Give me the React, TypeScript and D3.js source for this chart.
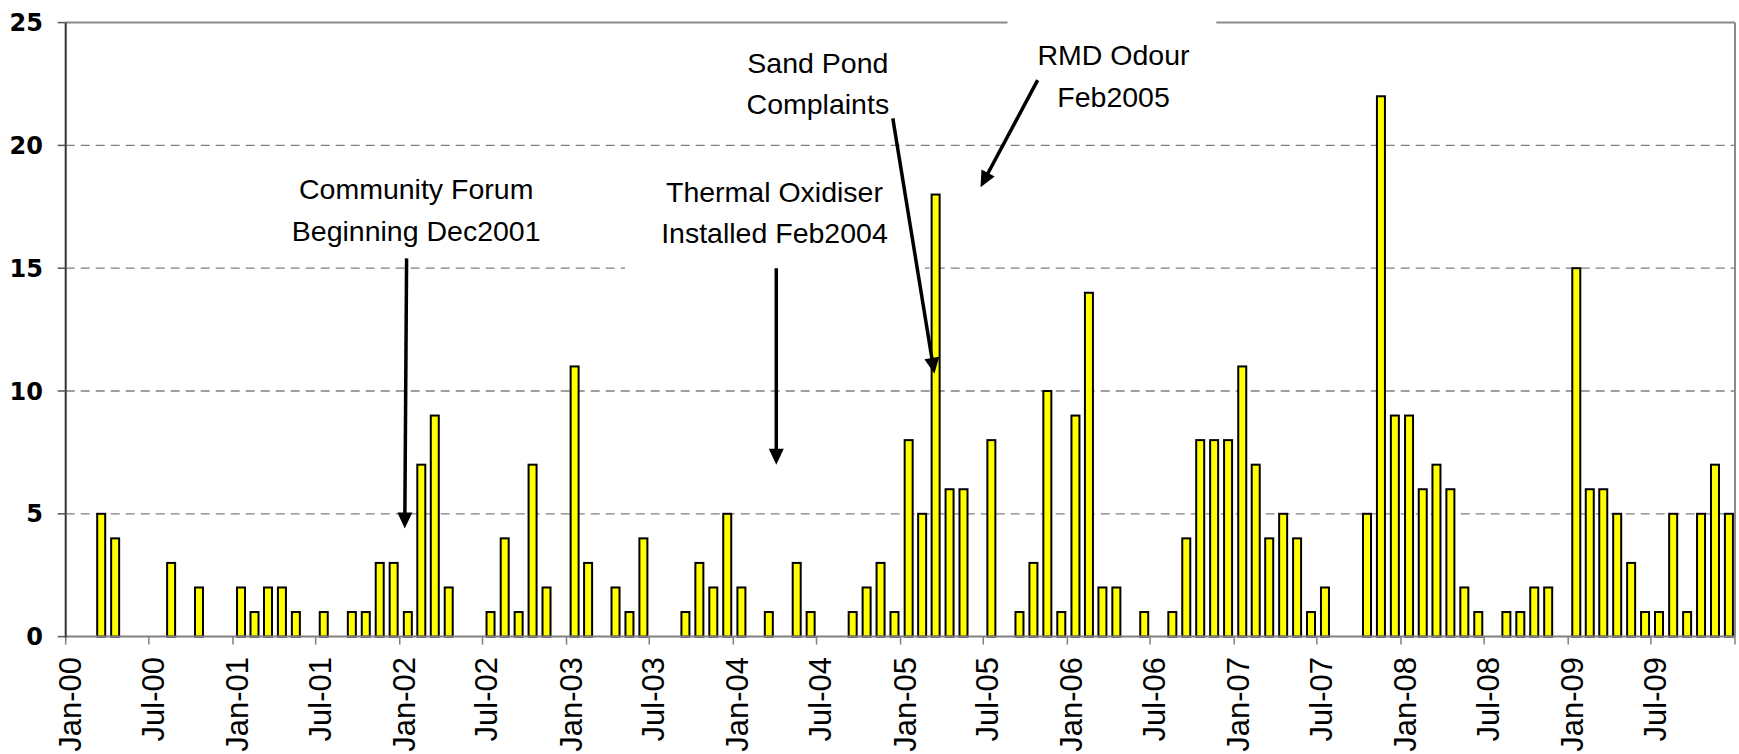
import React from "react";
import * as d3 from "d3";

// ---- data: monthly complaint counts (Jan..Dec) ----
const years = [2000, 2001, 2002, 2003, 2004, 2005, 2006, 2007, 2008, 2009];
const counts2000 = [0, 0, 5, 4, 0, 0, 0, 3, 0, 2, 0, 0];
const counts2001 = [2, 1, 2, 2, 1, 0, 1, 0, 1, 1, 3, 3];
const counts2002 = [1, 7, 9, 2, 0, 0, 1, 4, 1, 7, 2, 0];
const counts2003 = [11, 3, 0, 2, 1, 4, 0, 0, 1, 3, 2, 5];
const counts2004 = [2, 0, 1, 0, 3, 1, 0, 0, 1, 2, 3, 1];
const counts2005 = [8, 5, 18, 6, 6, 0, 8, 0, 1, 3, 10, 1];
const counts2006 = [9, 14, 2, 2, 0, 1, 0, 1, 4, 8, 8, 8];
const counts2007 = [11, 7, 4, 5, 4, 1, 2, 0, 0, 5, 22, 9];
const counts2008 = [9, 6, 7, 6, 2, 1, 0, 1, 1, 2, 2, 0];
const counts2009 = [15, 6, 6, 5, 3, 1, 1, 5, 1, 5, 7, 5];
const countsByYear = [counts2000, counts2001, counts2002, counts2003, counts2004, counts2005, counts2006, counts2007, counts2008, counts2009];

const yTicks = [0, 5, 10, 15, 20, 25];
const tickLabels = [
  "Jan-00", "Jul-00", "Jan-01", "Jul-01", "Jan-02", "Jul-02", "Jan-03", "Jul-03", "Jan-04", "Jul-04",
  "Jan-05", "Jul-05", "Jan-06", "Jul-06", "Jan-07", "Jul-07", "Jan-08", "Jul-08", "Jan-09", "Jul-09",
];

// annotations in data space
const annotationTexts = [
  ["Community Forum", "Beginning Dec2001"],
  ["Thermal Oxidiser", "Installed Feb2004"],
  ["Sand Pond", "Complaints"],
  ["RMD Odour", "Feb2005"],
];
const annotationAnchors = [
  { text: "2002-02-06", textY: 17.8, from: ["2002-01-16", 15.4], to: ["2002-01-12", 4.4] },
  { text: "2004-03-31", textY: 17.7, from: ["2004-04-04", 15.0], to: ["2004-04-04", 7.0] },
  { text: "2004-07-04", textY: 22.95, from: ["2004-12-15", 21.1], to: ["2005-03-16", 10.7] },
  { text: "2006-04-12", textY: 23.27, from: ["2005-10-28", 22.66], to: ["2005-06-25", 18.3] },
];
const whiteBoxes = [
  { x0: "2003-05-09", x1: "2005-02-23", y0: 19.4, y1: 14.3 },
  { x0: "2005-08-23", x1: "2006-11-23", y0: 25.8, y1: 20.6 },
];

const W = 1739;
const H = 754;
const X0 = 65.7;
const X1 = 1735;
const Y0 = 636.6;
const Y1 = 22.6;

const pd = (s: string) => {
  const [yy, mm, dd] = s.split("-").map(Number);
  return new Date(yy, mm - 1, dd);
};

export default function App() {
  const x = d3.scaleTime().domain([new Date(2000, 0, 1), new Date(2010, 0, 1)]).range([X0, X1]);
  const y = d3.scaleLinear().domain([0, 25]).range([Y0, Y1]);

  const bars: { cx: number; v: number; key: string }[] = [];
  years.forEach((yr, i) => {
    countsByYear[i].forEach((v, m) => {
      if (v <= 0) return;
      const s = new Date(yr, m, 1);
      const e = new Date(yr, m + 1, 1);
      bars.push({ cx: (x(s) + x(e)) / 2 + 1, v, key: `${yr}-${m}` });
    });
  });

  const tickDates = d3.timeMonth.every(6)!.range(new Date(2000, 0, 1), new Date(2010, 0, 2));

  const arrow = (fx: number, fy: number, tx: number, ty: number) => {
    const dx = tx - fx;
    const dy = ty - fy;
    const L = Math.hypot(dx, dy);
    const ux = dx / L;
    const uy = dy / L;
    const len = 16;
    const hw = 7.5;
    const bx = tx - ux * len;
    const by = ty - uy * len;
    const nx = -uy;
    const ny = ux;
    return {
      line: [fx, fy, bx + ux * 2, by + uy * 2],
      head: `${tx},${ty} ${bx + nx * hw},${by + ny * hw} ${bx - nx * hw},${by - ny * hw}`,
    };
  };

  const annFont = "'Liberation Sans', Arial, sans-serif";

  return (
    <svg width={W} height={H} style={{ position: "absolute", left: 0, top: 0, background: "#fff" }}>
      <rect x={0} y={0} width={W} height={H} fill="#fff" />
      {/* gridlines */}
      {yTicks.filter((t) => t > 0 && t < 25).map((t) => (
        <line key={`g${t}`} x1={X0} x2={X1} y1={y(t)} y2={y(t)} stroke="#808080" strokeWidth={1.3} strokeDasharray="9,6" />
      ))}
      {/* plot border top/right */}
      <line x1={X0} x2={X1} y1={Y1} y2={Y1} stroke="#8a8a8a" strokeWidth={2} />
      <line x1={X1} x2={X1} y1={Y1} y2={Y0} stroke="#8a8a8a" strokeWidth={2} />

      {/* bars */}
      {bars.map((b) => (
        <rect key={b.key} x={b.cx - 4} y={y(b.v)} width={8} height={y(0) - y(b.v)} fill="#ffff00" stroke="#000" strokeWidth={2} />
      ))}

      {/* x axis */}
      <line x1={X0} x2={X1} y1={Y0} y2={Y0} stroke="#808080" strokeWidth={2} />
      {tickDates.map((d, i) => (
        <line key={`xt${i}`} x1={x(d)} x2={x(d)} y1={Y0} y2={Y0 + 8} stroke="#808080" strokeWidth={1.5} />
      ))}
      {tickDates.slice(0, tickLabels.length).map((d, i) => (
        <text
          key={`xl${i}`}
          transform={`translate(${x(d) + 15},${657}) rotate(-90)`}
          textAnchor="end"
          fontFamily={annFont}
          fontSize={31}
          fill="#000"
        >
          {tickLabels[i]}
        </text>
      ))}

      {/* y axis */}
      <line x1={X0} x2={X0} y1={Y1} y2={Y0 + 1} stroke="#333" strokeWidth={2} />
      {yTicks.map((t) => (
        <g key={`yt${t}`}>
          <line x1={X0 - 8} x2={X0} y1={y(t)} y2={y(t)} stroke="#555" strokeWidth={1.5} />
          <text x={43} y={y(t)} dy="0.36em" textAnchor="end" fontFamily="'DejaVu Sans', sans-serif" fontWeight="bold" fontSize={24} fill="#000">
            {t}
          </text>
        </g>
      ))}

      {/* white text boxes */}
      {whiteBoxes.map((b, i) => (
        <rect key={`wb${i}`} x={x(pd(b.x0))} y={y(b.y0)} width={x(pd(b.x1)) - x(pd(b.x0))} height={y(b.y1) - y(b.y0)} fill="#fff" />
      ))}

      {/* annotations */}
      {annotationAnchors.map((a, i) => {
        const tx = x(pd(a.text));
        const ty = y(a.textY);
        const ar = arrow(x(pd(a.from[0] as string)), y(a.from[1] as number), x(pd(a.to[0] as string)), y(a.to[1] as number));
        return (
          <g key={`an${i}`}>
            {annotationTexts[i].map((line, j) => (
              <text key={j} x={tx} y={ty + j * 41.5} textAnchor="middle" fontFamily={annFont} fontSize={28.5} fill="#000">
                {line}
              </text>
            ))}
            <line x1={ar.line[0]} y1={ar.line[1]} x2={ar.line[2]} y2={ar.line[3]} stroke="#000" strokeWidth={3.5} />
            <polygon points={ar.head} fill="#000" />
          </g>
        );
      })}
    </svg>
  );
}
